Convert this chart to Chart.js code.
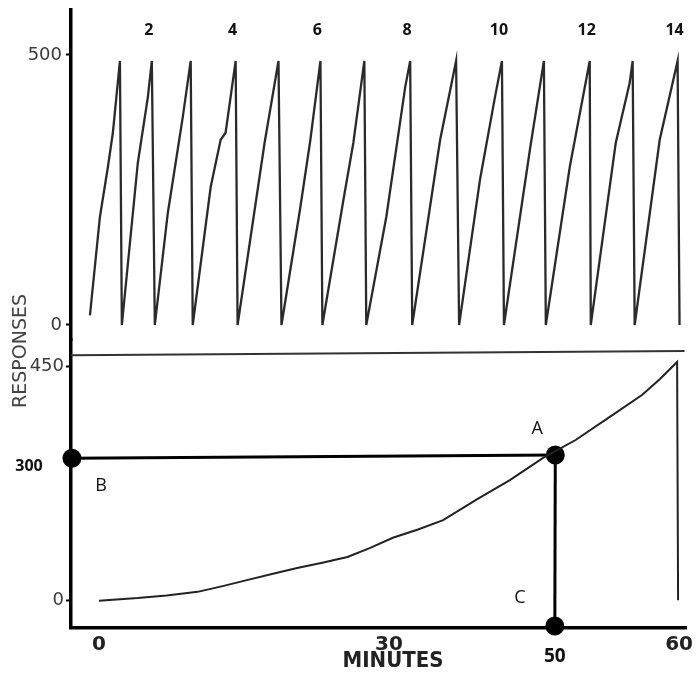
<!DOCTYPE html>
<html>
<head>
<meta charset="utf-8">
<script src="https://cdn.jsdelivr.net/npm/chart.js@4.4.0/dist/chart.umd.min.js"></script>
<style>
  body { margin: 0; background: #fff; }
  #wrap { width: 696px; height: 673px; }
</style>
</head>
<body>
<div id="wrap"><canvas id="recordChart" width="696" height="673"></canvas></div>
<script>
// upper record: the pen climbs to 500 responses and resets (14 excursions)
const sawX = [-0.93, 0.10, 0.93, 1.44, 2.17, 2.37,
              4.02, 5.06, 5.47, 5.78,
              7.12, 8.67, 9.49, 9.70,
              11.56, 12.59, 13.10, 14.14, 14.34,
              17.13, 18.57, 18.88,
              20.84, 21.87, 22.91, 23.11,
              25.28, 26.31, 27.45, 27.65,
              29.72, 31.68, 32.19, 32.40,
              35.29, 36.94, 37.25,
              39.41, 40.96, 41.68, 41.89,
              44.57, 46.02, 46.22,
              48.70, 50.76, 50.87,
              53.45, 54.89, 55.20, 55.41,
              58.00, 59.85, 60.05];
const sawY = [18, 200, 293, 356, 489, 0,
              300, 422, 489, 0,
              207, 385, 489, 0,
              256, 343, 356, 489, 0,
              337, 489, 0,
              219, 343, 489, 0,
              231, 337, 489, 0,
              200, 441, 489, 0,
              343, 489, 0,
              269, 422, 489, 0,
              324, 489, 0,
              293, 489, 0,
              337, 448, 489, 0,
              343, 489, 0];

// lower record: cumulative responses over 60 minutes
const curveX = [0, 4.0, 7.0, 10.2, 12.8, 15.4, 18.0, 20.5, 23.1, 25.7, 28.0, 30.4, 33.0, 35.6, 39.0, 42.5, 45.9, 49.3, 52.8, 56.2, 58.0, 59.8, 59.9];
const curveY = [0, 5, 10, 17, 28, 40, 52, 63, 73, 84, 101, 121, 137, 155, 194, 232, 274, 309, 353, 396, 426, 459, 1];

const cycleNumbers = [2, 4, 6, 8, 10, 12, 14];
const topTicks = [0, 500];
const bottomTicks = [0, 450];
const minuteTicks = [0, 30, 60];

// frame line over the lower record
const dividerX = [-2.89, 60.57];
const dividerY = [472, 480];

// marked points A, B, C
const pointA = { x: 47.2, y: 280 };
const pointB = { x: -2.79, y: 274 };
const pointC = { x: 47.15, y: -48.7 };

const zip = (xs, ys) => xs.map((v, i) => ({ x: v, y: ys[i] }));

const textPlugin = {
    id: 'recordText',
    afterDraw(chart) {
        const { ctx, scales, chartArea } = chart;
        const x = scales.x, yb = scales.yb;
        ctx.save();
        ctx.fillStyle = '#111';
        ctx.textAlign = 'center';
        ctx.textBaseline = 'middle';

        // excursion numbers above every second peak
        const top = Math.max(...sawY);
        const peaks = sawX.filter((v, i) => sawY[i] === top);
        ctx.font = 'bold 16px "Open Sans"';
        cycleNumbers.forEach(n => {
            ctx.fillText(String(n), x.getPixelForValue(peaks[n - 1]) - 3, chartArea.top + 20);
        });

        const a = { x: x.getPixelForValue(pointA.x), y: yb.getPixelForValue(pointA.y) };
        const b = { x: x.getPixelForValue(pointB.x), y: yb.getPixelForValue(pointB.y) };
        const c = { x: x.getPixelForValue(pointC.x), y: yb.getPixelForValue(pointC.y) };

        ctx.font = '18px "Open Sans"';
        ctx.fillText('A', a.x - 18, a.y - 26);
        ctx.fillText('B', b.x + 29, b.y + 28);
        ctx.fillText('C', c.x - 35, c.y - 28);

        ctx.font = 'bold 16px "Open Sans"';
        ctx.fillText('300', b.x - 43, b.y + 8);
        ctx.font = 'bold 19px "Open Sans"';
        ctx.fillText('50', c.x, c.y + 31);

        ctx.fillStyle = '#222';
        ctx.font = 'bold 22px "DejaVu Sans Condensed"';
        ctx.fillText('MINUTES', x.getPixelForValue(30) + 4, chartArea.bottom + 33);

        ctx.fillStyle = '#444';
        ctx.font = '19px "DejaVu Sans"';
        ctx.translate(21, yb.top + 11);
        ctx.rotate(-Math.PI / 2);
        ctx.fillText('RESPONSES', 0, 0);
        ctx.restore();
    }
};

const fixWidth = s => { s.width = 71; s.paddingTop = 0; s.paddingBottom = 0; };

const ctx = document.getElementById('recordChart').getContext('2d');
new Chart(ctx, {
    type: 'line',
    data: {
        datasets: [
            {
                data: zip(sawX, sawY),
                yAxisID: 'yt',
                borderColor: '#2a2a2a',
                borderWidth: 2.3,
                pointRadius: 0,
                tension: 0
            },
            {
                data: zip(curveX, curveY),
                yAxisID: 'yb',
                borderColor: '#222',
                borderWidth: 2,
                pointRadius: 0,
                tension: 0
            },
            {
                data: zip(dividerX, dividerY),
                yAxisID: 'yb',
                borderColor: '#333',
                borderWidth: 2,
                pointRadius: 0,
                clip: false
            },
            {
                data: [pointB, pointA],
                yAxisID: 'yb',
                borderColor: '#000',
                borderWidth: 3,
                pointRadius: 9.5,
                pointBackgroundColor: '#000',
                pointBorderWidth: 0,
                clip: false
            },
            {
                data: [pointA, pointC],
                yAxisID: 'yb',
                borderColor: '#000',
                borderWidth: 3,
                pointRadius: [0, 9.5],
                pointBackgroundColor: '#000',
                pointBorderWidth: 0,
                clip: false
            }
        ]
    },
    options: {
        responsive: false,
        animation: false,
        layout: { padding: { top: 10, right: 6, left: 0, bottom: 0 } },
        plugins: {
            legend: { display: false },
            tooltip: { enabled: false }
        },
        scales: {
            x: {
                type: 'linear',
                min: -2.89,
                max: 60.77,
                afterBuildTicks: s => { s.ticks = minuteTicks.map(v => ({ value: v })); },
                afterFit: s => { s.height = 45; s.paddingLeft = 0; s.paddingRight = 0; },
                grid: { display: false, drawTicks: false },
                border: { display: true, color: '#000', width: 3.5 },
                ticks: {
                    padding: 5,
                    color: '#222',
                    font: { family: 'DejaVu Sans', size: 20, weight: 'bold' }
                }
            },
            yb: {
                type: 'linear',
                position: 'left',
                stack: 'rec',
                stackWeight: 288,
                min: -52.5,
                max: 501.3,
                afterBuildTicks: s => { s.ticks = bottomTicks.map(v => ({ value: v })); },
                afterFit: fixWidth,
                grid: { drawOnChartArea: false, tickLength: 5, tickWidth: 2, color: '#000' },
                border: { display: true, color: '#000', width: 3.5 },
                ticks: {
                    padding: 2,
                    color: '#3a3a3a',
                    font: { family: 'DejaVu Sans', size: 18 }
                }
            },
            yt: {
                type: 'linear',
                position: 'left',
                stack: 'rec',
                stackWeight: 330,
                min: -27.8,
                max: 583.3,
                afterBuildTicks: s => { s.ticks = topTicks.map(v => ({ value: v })); },
                afterFit: fixWidth,
                grid: { drawOnChartArea: false, tickLength: 5, tickWidth: 2, color: '#000' },
                border: { display: true, color: '#000', width: 3.5 },
                ticks: {
                    padding: 4,
                    color: '#3a3a3a',
                    font: { family: 'DejaVu Sans', size: 18 }
                }
            }
        }
    },
    plugins: [textPlugin]
});
</script>
</body>
</html>
